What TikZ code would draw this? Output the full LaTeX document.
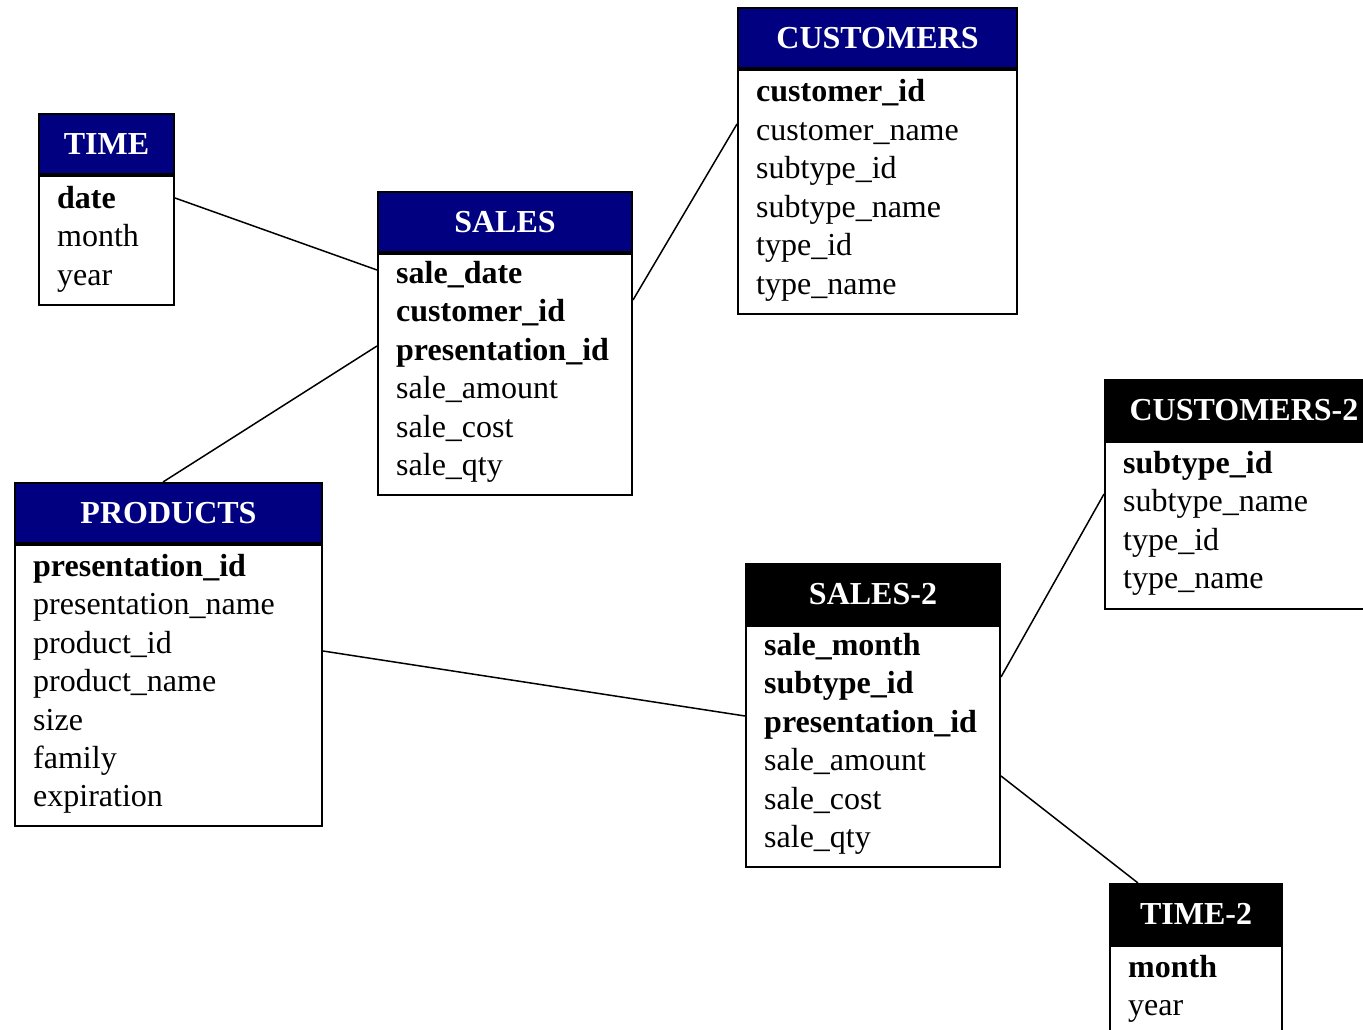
\documentclass[tikz,border=0pt]{standalone}
\usepackage{fontspec}
\setmainfont{Liberation Serif}
\definecolor{navy}{RGB}{0,0,128}
\tikzset{
  hdrbox/.style={draw=black, line width=2pt, text=white,
    font=\fontsize{32}{38}\selectfont\bfseries, inner sep=0pt, anchor=north west},
  bodybox/.style={draw=black, line width=2pt, fill=white, inner sep=0pt, anchor=north west},
  rowtext/.style={font=\fontsize{32}{38}\selectfont, inner sep=0pt, anchor=base west},
  link/.style={line width=1.5pt},
}
% #1 name, #2 x, #3 y, #4 width, #5 first baseline offset,
% #6 body height, #7 header fill, #8 title, #9 rows
\newcommand{\erdtable}[9]{%
  \node[hdrbox, fill=#7, minimum width=#4pt, minimum height=60pt] (#1-h) at (#2,#3) {#8};
  \node[bodybox, minimum width=#4pt, minimum height=#6pt] (#1-b) at (#1-h.south west) {};
  \foreach \rowtxt [count=\i, evaluate=\i as \dy using #5+38.4*(\i-1)] in {#9}
    \node[rowtext] (#1-r\i) at ([xshift=19pt, yshift=-\dy pt]#1-b.north west) {\rowtxt};
}
\begin{document}
\begin{tikzpicture}[x=1pt, y=-1pt]
\useasboundingbox (0,0) rectangle (1363,1030);

\erdtable{time}{38}{113}{135}{33.5}{129}{navy}{TIME}
  {\textbf{date}, month, year}
\erdtable{sales}{377}{191}{254}{30.5}{241}{navy}{SALES}
  {\textbf{sale\_date}, \textbf{customer\_id}, \textbf{presentation\_id},
   sale\_amount, sale\_cost, sale\_qty}
\erdtable{cust}{737}{7}{279}{33}{244}{navy}{CUSTOMERS}
  {\textbf{customer\_id}, customer\_name, subtype\_id, subtype\_name, type\_id, type\_name}
\erdtable{prod}{14}{482}{307}{32.5}{281}{navy}{PRODUCTS}
  {\textbf{presentation\_id}, presentation\_name, product\_id, product\_name,
   size, family, expiration}
\erdtable{salestwo}{745}{563}{254}{30.5}{241}{black}{SALES-2}
  {\textbf{sale\_month}, \textbf{subtype\_id}, \textbf{presentation\_id},
   sale\_amount, sale\_cost, sale\_qty}
\erdtable{custtwo}{1104}{379}{278}{32.5}{167}{black}{CUSTOMERS-2}
  {\textbf{subtype\_id}, subtype\_name, type\_id, type\_name}
\erdtable{timetwo}{1109}{883}{172}{32.5}{120}{black}{TIME-2}
  {\textbf{month}, year}

% relationships
\draw[link] (time-b.east |- 0,198) -- (sales-b.west |- 0,270);
\draw[link] (sales-b.east |- 0,300) -- (cust-b.west |- 0,124);
\draw[link] (sales-b.west |- 0,346) -- (prod-h.north -| 163,0);
\draw[link] (prod-b.east |- 0,651) -- (salestwo-b.west |- 0,716);
\draw[link] (salestwo-b.east |- 0,677) -- (custtwo-b.west |- 0,494);
\draw[link] (salestwo-b.east |- 0,776) -- (timetwo-h.north -| 1138,0);
\end{tikzpicture}
\end{document}
